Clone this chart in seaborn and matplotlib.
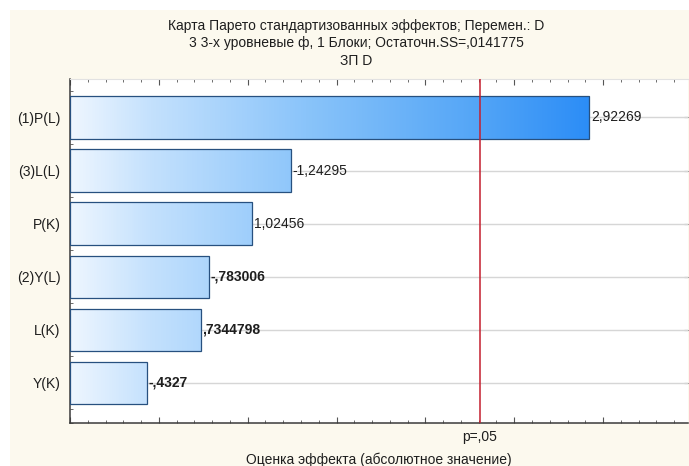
import numpy as np
import pandas as pd
import matplotlib
matplotlib.use("Agg")
import matplotlib.pyplot as plt
import matplotlib.transforms as mtransforms
from matplotlib.colors import LinearSegmentedColormap
from matplotlib.patches import Rectangle
from matplotlib.ticker import MultipleLocator
import seaborn as sns

# Effects and their standardized estimates (t values)
effects = ["(1)P(L)", "(3)L(L)", "P(K)", "(2)Y(L)", "L(K)", "Y(K)"]
estimates = [2.92269, -1.24295, 1.02456, -0.783006, 0.7344798, -0.4327]
p_crit = 2.306  # t critical value, p = .05

title_lines = [
    "Карта Парето стандартизованных эффектов; Перемен.: D",
    "3 3-х уровневые ф, 1 Блоки; Остаточн.SS=,0141775",
    "ЗП D",
]
x_label = "Оценка эффекта (абсолютное значение)"
p_label = "p=,05"

label_weights = ["normal", "normal", "normal", "bold", "bold", "bold"]


def stat_fmt(v):
    s = str(v).replace(".", ",")
    if s.startswith("0,"):
        s = s[1:]
    elif s.startswith("-0,"):
        s = "-" + s[2:]
    return s


df = pd.DataFrame({"effect": effects,
                   "estimate": estimates,
                   "abs_est": np.abs(estimates)})

sns.set_theme(style="white")
plt.rcParams["font.family"] = ["Liberation Sans", "DejaVu Sans"]
plt.rcParams["font.size"] = 10

W, H = 689, 466
fig = plt.figure(figsize=(W / 100, H / 100), dpi=100, facecolor="white")
# cream panel behind the chart
fig.patches.append(Rectangle((10 / W, 0), 1 - 10 / W, 1 - 10 / H,
                             transform=fig.transFigure, facecolor="#fcf9ee",
                             edgecolor="none", zorder=-10))

ax_l, ax_r, ax_t, ax_b = 70, 687.5, 79, 423
ax = fig.add_axes([ax_l / W, 1 - ax_b / H, (ax_r - ax_l) / W, (ax_b - ax_t) / H])
ax.set_facecolor("white")

sns.barplot(data=df, x="abs_est", y="effect", order=effects, orient="h",
            width=0.8, color="#8cc4fa", edgecolor="#27507f", linewidth=0.9,
            ax=ax, zorder=3)

xmax = 3.475
ax.set_xlim(0, xmax)
ax.set_ylim(5.755, -0.725)

# horizontal gradient fill shared by all bars
cmap = LinearSegmentedColormap.from_list(
    "pareto",
    [(0.0, "#eef6ff"), (0.15, "#c4e1fd"), (0.45, "#8ac4fa"),
     (0.75, "#58a8f7"), (1.0, "#2a8cf6")], N=256)
gmax = 2.95
for patch in ax.patches:
    x0, y0 = patch.get_x(), patch.get_y()
    w, h = patch.get_width(), patch.get_height()
    seg = np.linspace(0, w / gmax, 256).reshape(1, -1)
    im = ax.imshow(seg, cmap=cmap, vmin=0, vmax=1, aspect="auto",
                   extent=[x0, x0 + w, y0 + h, y0], zorder=2.5,
                   interpolation="bilinear")
    im.set_clip_path(patch)
    patch.set_facecolor("none")
ax.set_xlim(0, xmax)
ax.set_ylim(5.755, -0.725)

# value labels at bar ends
for i, (v, a) in enumerate(zip(estimates, df["abs_est"])):
    ax.text(a + 0.01, i, stat_fmt(v), va="center", ha="left",
            fontsize=10, color="#1e1e1e", weight=label_weights[i], zorder=5)

# grid lines through bar centres
for i in range(len(effects)):
    ax.axhline(i, color="#d6d6d6", lw=1, zorder=1)

# critical value line
ax.axvline(p_crit, color="#c41e2e", lw=1.1, zorder=4)

# spines and ticks
for side in ["left", "bottom"]:
    ax.spines[side].set_color("#3a3a3a")
    ax.spines[side].set_linewidth(1.1)
ax.spines["top"].set_color("#e2e2e2")
ax.spines["top"].set_linewidth(0.8)
ax.spines["right"].set_visible(False)

ax.xaxis.set_major_locator(MultipleLocator(0.5))
ax.xaxis.set_minor_locator(MultipleLocator(0.1))
ax.yaxis.set_minor_locator(MultipleLocator(0.25))
ax.tick_params(axis="x", which="both", direction="in", bottom=True, top=True,
               labelbottom=False, color="#555555")
ax.tick_params(axis="x", which="major", length=4, width=0.8)
ax.tick_params(axis="x", which="minor", length=2, width=0.6)
ax.tick_params(axis="y", which="both", direction="in", left=True, right=True,
               color="#555555", labelsize=10, labelcolor="#1e1e1e", pad=7)
ax.tick_params(axis="y", which="major", length=3, width=0.8)
ax.tick_params(axis="y", which="minor", length=2, width=0.6, right=False)
ax.set_xlabel("")
ax.set_ylabel("")

# p-level label under the critical line
trans = mtransforms.blended_transform_factory(ax.transData, fig.transFigure)
ax.text(p_crit, 1 - 437 / H, p_label, transform=trans, ha="center",
        va="center", fontsize=10, color="#1e1e1e")

fig.text((ax_l + ax_r) / 2 / W, 1 - 460 / H, x_label, ha="center",
         va="center", fontsize=10, color="#1e1e1e")

for yy, line in zip([26, 43.5, 61], title_lines):
    fig.text(356 / W, 1 - yy / H, line, ha="center", va="center",
             fontsize=10, color="#1e1e1e")

fig.savefig("out.png", dpi=100, facecolor=fig.get_facecolor())
